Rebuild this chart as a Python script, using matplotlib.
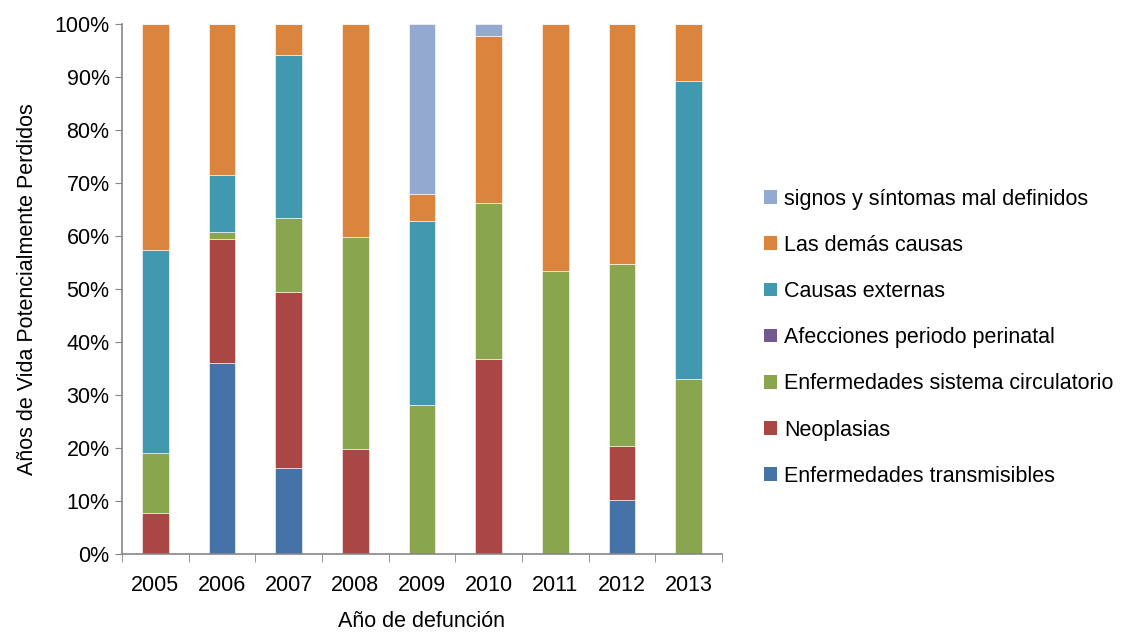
import numpy as np
import matplotlib.pyplot as plt
from matplotlib.patches import Patch
from matplotlib.ticker import FuncFormatter

plt.rcParams['font.family'] = ['Liberation Sans Narrow', 'Liberation Sans', 'DejaVu Sans']

years = ['2005', '2006', '2007', '2008', '2009', '2010', '2011', '2012', '2013']

# percentages per cause (stack order bottom -> top)
transmisibles = [0.0, 36.1, 16.2, 0.0, 0.0, 0.0, 0.0, 10.1, 0.0]
neoplasias = [7.7, 23.4, 33.2, 19.9, 0.0, 36.7, 0.0, 10.3, 0.0]
circulatorio = [11.3, 1.3, 14.0, 40.0, 28.2, 29.6, 53.4, 34.3, 33.0]
perinatal = [0.0, 0.0, 0.0, 0.0, 0.0, 0.0, 0.0, 0.0, 0.0]
externas = [38.4, 10.7, 30.7, 0.0, 34.7, 0.0, 0.0, 0.0, 56.3]
demas = [42.6, 28.5, 5.9, 40.1, 5.1, 31.4, 46.6, 45.3, 10.7]
signos = [0.0, 0.0, 0.0, 0.0, 32.0, 2.3, 0.0, 0.0, 0.0]

series = [
    ('Enfermedades transmisibles', transmisibles, '#4572A7'),
    ('Neoplasias', neoplasias, '#AA4643'),
    ('Enfermedades sistema circulatorio', circulatorio, '#89A54E'),
    ('Afecciones periodo perinatal', perinatal, '#71588F'),
    ('Causas externas', externas, '#4198AF'),
    ('Las demás causas', demas, '#DB843D'),
    ('signos y síntomas mal definidos', signos, '#93A9CF'),
]

fs = 15.5

fig = plt.figure(figsize=(11.34, 6.36), dpi=100)
ax = fig.add_axes([0.1076, 0.1289, 0.529, 0.8334])

x = np.arange(len(years))
bottom = np.zeros(len(years))
for name, vals, color in series:
    vals = np.array(vals) / 100.0
    ax.bar(x, vals, width=0.4, bottom=bottom, color=color,
           edgecolor='white', linewidth=0.4)
    bottom += vals

ax.set_xlim(-0.5, len(years) - 0.5)
ax.set_ylim(0, 1)
ax.set_yticks(np.arange(0, 1.01, 0.1))
ax.yaxis.set_major_formatter(FuncFormatter(lambda v, p: '%d%%' % round(v * 100)))
ax.set_xticks(x)
ax.set_xticklabels(years)
ax.set_xticks(np.arange(-0.5, len(years)), minor=True)
ax.tick_params(axis='x', which='major', length=0, pad=15, labelsize=fs)
ax.tick_params(axis='x', which='minor', length=6, color='#868686', direction='out')
ax.tick_params(axis='y', length=5, color='#868686', labelsize=fs, pad=4)

for s in ['top', 'right']:
    ax.spines[s].set_visible(False)
for s in ['left', 'bottom']:
    ax.spines[s].set_color('#868686')
    ax.spines[s].set_linewidth(1.2)

ax.set_xlabel('Año de defunción', fontsize=fs, labelpad=11)
ax.set_ylabel('Años de Vida Potencialmente Perdidos', fontsize=fs, labelpad=12)

handles = [Patch(facecolor=c, edgecolor='none', label=n) for n, v, c in series[::-1]]
fig.legend(handles=handles, loc='center left', bbox_to_anchor=(0.6737, 0.469),
           frameon=False, fontsize=fs, handlelength=0.6, handleheight=0.6,
           handletextpad=0.33, labelspacing=1.17, borderpad=0, borderaxespad=0)

plt.savefig('out.png', dpi=100)
plt.close()
